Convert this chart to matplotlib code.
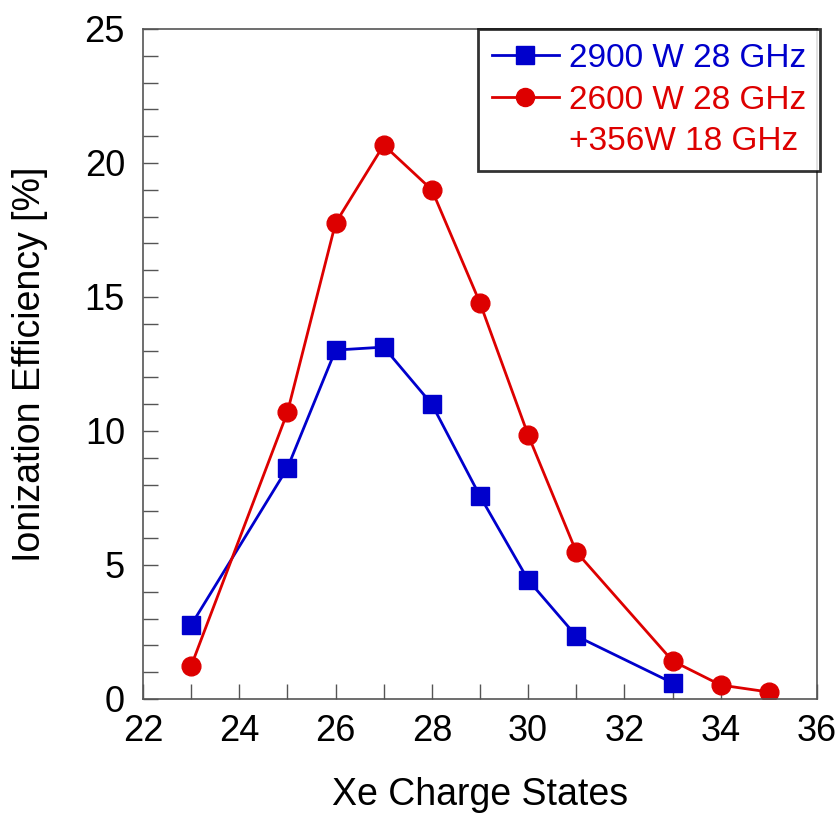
import numpy as np
import matplotlib
matplotlib.use("Agg")
import matplotlib.pyplot as plt
from matplotlib.lines import Line2D
from matplotlib.ticker import MultipleLocator

plt.rcParams['font.family'] = ['Liberation Sans', 'DejaVu Sans']

# charge states and efficiencies [%]
q_blue = [23, 25, 26, 27, 28, 29, 30, 31, 33]
eff_blue = [2.76, 8.62, 13.02, 13.13, 11.0, 7.57, 4.44, 2.35, 0.6]
q_red = [23, 25, 26, 27, 28, 29, 30, 31, 33, 34, 35]
eff_red = [1.23, 10.7, 17.76, 20.67, 19.0, 14.78, 9.85, 5.49, 1.42, 0.52, 0.26]

label_blue = "2900 W 28 GHz"
label_red = "2600 W 28 GHz"
label_red2 = "+356W 18 GHz"

blue = '#0000CC'
red = '#DD0000'

fig = plt.figure(figsize=(8.37, 8.19), dpi=100)
ax = fig.add_axes([143/837, 1-699/819, 674/837, 670/819])

lb, = ax.plot(q_blue, eff_blue, color=blue, marker='s', markersize=13.5, lw=2,
              label=label_blue)
lr, = ax.plot(q_red, eff_red, color=red, marker='o', markersize=13.5, lw=2,
              label=label_red)
# empty handle so the second red line of text sits under the first
blank = Line2D([], [], linestyle='none', marker='none')

ax.set_xlim(22, 36)
ax.set_ylim(0, 25)
ax.xaxis.set_major_locator(MultipleLocator(2))
ax.xaxis.set_minor_locator(MultipleLocator(1))
ax.yaxis.set_major_locator(MultipleLocator(5))
ax.yaxis.set_minor_locator(MultipleLocator(1))
ax.tick_params(which='both', direction='in', length=11, width=1, color='#555555')
ax.tick_params(axis='x', which='major', labelsize=26, pad=11)
ax.tick_params(axis='y', which='major', labelsize=26, pad=13)
for s in ax.spines.values():
    s.set_color('#555555')
    s.set_linewidth(1.2)

ax.set_xlabel("Xe Charge States", fontsize=27, labelpad=20)
ax.set_ylabel("Ionization Efficiency [%]", fontsize=27, labelpad=26)

leg = ax.legend([lb, lr, blank], [label_blue, label_red, label_red2],
                loc='upper right', bbox_to_anchor=(1.004, 1.0), fontsize=24,
                frameon=True, fancybox=False, handlelength=2.0,
                handletextpad=0.3, borderpad=0.42, labelspacing=0.32,
                borderaxespad=0)
leg.get_frame().set_edgecolor('black')
leg.get_frame().set_linewidth(2)
for t, c in zip(leg.get_texts(), [blue, red, red]):
    t.set_color(c)
for h in leg.legend_handles[:2]:
    h.set_markersize(13)

fig.savefig("out.png", dpi=100)
